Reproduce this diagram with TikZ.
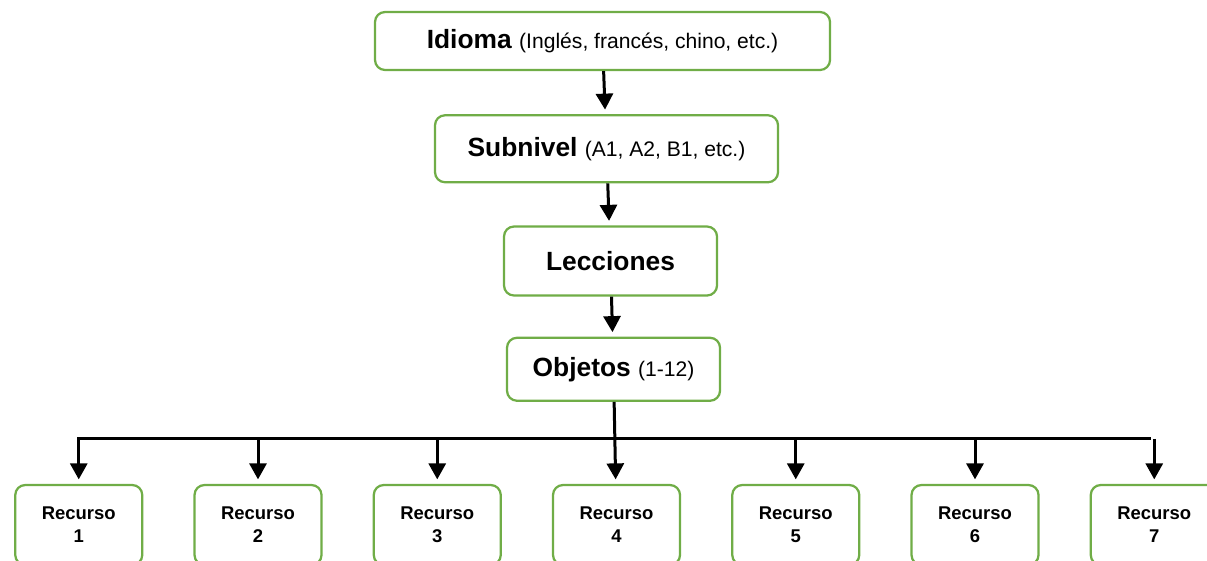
\documentclass[tikz,border=0pt]{standalone}
\usepackage{fontspec}
\setmainfont{Liberation Sans}
\usepackage{tikz}
\usetikzlibrary{positioning}
\usetikzlibrary{arrows.meta}
\definecolor{boxgreen}{RGB}{112,173,71}
\newcommand{\detail}[1]{{\fontsize{12}{14}\selectfont #1}}

\begin{document}
\begin{tikzpicture}[
            > = {Triangle[length=0.32cm, width=0.34cm]}, % arrow head style
            shorten > = 0.09cm, % don't touch arrow head to node
            node distance = 0.9cm, % distance between nodes
            line width = 0.06cm % line style
            ]

        \tikzstyle{level}=[
            draw = boxgreen,
            line width = 0.045cm,
            rounded corners = 0.2cm,
            fill = white,
            inner sep = 0pt,
            font = \fontsize{15}{18}\selectfont
        ]
        \tikzstyle{resource}=[
            level,
            minimum width = 2.54cm,
            minimum height = 1.6cm,
            align = center,
            font = \fontsize{10.5}{13}\selectfont\bfseries
        ]

        \useasboundingbox (0,0) rectangle (24.14,-11.2);

	% levels
	\node[level, minimum width = 9.1cm, minimum height = 1.16cm] (Idi) at (12.05,-0.82) {\textbf{Idioma} \detail{(Inglés, francés, chino, etc.)}};
	\node[level, minimum width = 6.86cm, minimum height = 1.34cm] (Sub) [below = 0.86cm of Idi, xshift = 0.08cm] {\textbf{Subnivel} \detail{(A1, A2, B1, etc.)}};
	\node[level, minimum width = 4.26cm, minimum height = 1.38cm] (Lec) [below = 0.84cm of Sub, xshift = 0.08cm] {\textbf{Lecciones}};
	\node[level, minimum width = 4.26cm, minimum height = 1.26cm] (Obj) [below = 0.8cm of Lec, xshift = 0.06cm] {\textbf{Objetos} \detail{(1-12)}};
	\path[->] (Idi) edge (Sub);
	\path[->] (Sub) edge (Lec);
	\path[->] (Lec) edge (Obj);

	% resources
	\node[resource] (R4) [below = 1.64cm of Obj, xshift = 0.06cm] {Recurso\\4};
	\node[resource] (R3) [left = 1cm of R4] {Recurso\\3};
	\node[resource] (R2) [left = 1cm of R3] {Recurso\\2};
	\node[resource] (R1) [left = 1cm of R2] {Recurso\\1};
	\node[resource] (R5) [right = 1cm of R4] {Recurso\\5};
	\node[resource] (R6) [right = 1cm of R5] {Recurso\\6};
	\node[resource] (R7) [right = 1cm of R6] {Recurso\\7};

	% bus line
	\coordinate (bus) at ([yshift = -0.74cm]Obj.south);
	\draw[line cap = rect] (bus -| R1.north) -- (bus -| R7.north);
	\path[->] (Obj) edge (R4);
	\draw[->] (bus -| R1.north) -- (R1);
	\draw[->] (bus -| R2.north) -- (R2);
	\draw[->] (bus -| R3.north) -- (R3);
	\draw[->] (bus -| R5.north) -- (R5);
	\draw[->] (bus -| R6.north) -- (R6);
	\draw[->] (bus -| R7.north) -- (R7);

\end{tikzpicture}
\end{document}
